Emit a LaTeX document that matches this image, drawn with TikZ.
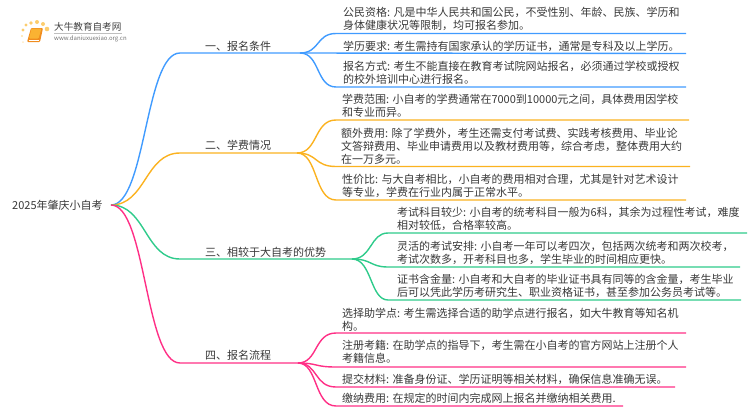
\documentclass[tikz,border=0pt]{standalone}
\usepackage{fontspec}
\setmainfont{Noto Sans CJK SC}
\tikzset{
	leaftext/.style={anchor=west, inner sep=0pt, align=left, text=black!78, font=\fontsize{11}{13}\selectfont},
	secttext/.style={anchor=west, inner sep=0pt, text=black!78, font=\fontsize{11}{13}\selectfont},
	blueline/.style={line width=1.4pt, color={rgb,255:red,64;green,155;blue,255}},
	orangeline/.style={line width=1.4pt, color={rgb,255:red,251;green,178;blue,32}},
	greenline/.style={line width=1.4pt, color={rgb,255:red,46;green,203;blue,139}},
	pinkline/.style={line width=1.4pt, color={rgb,255:red,255;green,47;blue,134}},
	logodot/.style={fill={rgb,255:red,252;green,205;blue,110}, draw=none},
}
\begin{document}
\begin{tikzpicture}[x=1pt, y=-1pt]
	\useasboundingbox (0, 0) rectangle (750, 410);

	%%%%% LOGO %%%%%
	\fill[logodot] (23, 30) circle (1.6);
	\fill[logodot] (26, 25) circle (1.6);
	\fill[logodot] (31, 23) circle (1.9);
	\fill[logodot] (37, 22) circle (2);
	\fill[logodot] (43, 24) circle (2);
	\fill[logodot] (47, 29) circle (2.3);
	\fill[logodot, opacity=0.6] (22, 36) circle (1.2);
	\fill[logodot, opacity=0.4] (23, 42) circle (1);
	\fill[rounded corners=1pt, color={rgb,255:red,240;green,140;blue,30}] (31, 28) -- (43, 28) -- (40, 42) -- (27, 42) -- cycle;
	\fill[rounded corners=1pt, color={rgb,255:red,250;green,178;blue,50}] (31.5, 28.5) -- (41.5, 28.5) -- (38.5, 38.5) -- (29, 38.5) -- cycle;
	\draw[white, line width=0.6pt] (28.5, 40) -- (39, 40);
	\node[secttext, text=black!75, font=\fontsize{9.6}{11}\selectfont] (logoname) at (54, 27) {大牛教育自考网};
	\draw[black!25, line width=0.5pt] (54, 33) -- (122, 33);
	\node[secttext, text=black!55, font=\fontsize{6}{7}\selectfont] (logourl) at (54, 38.5) {www.daniuxuexiao.org.cn};

	%%%%% ROOT %%%%%
	\node[secttext] (root) at (12, 205) {2025年肇庆小自考};
	\coordinate (rootend) at (111, 205);

	%%%%% SECTION 1 %%%%%
	\node[secttext] (sectA) at (205, 46) {一、报名条件};
	\coordinate (sectAin) at (180, 53);
	\coordinate (sectAout) at (300, 53);
	\draw[blueline] (rootend) .. controls (146, 205) and (145, 53) .. (sectAin) -- (sectAout);
	\node[leaftext] (leafAa) at (343, 19) {公民资格: 凡是中华人民共和国公民，不受性别、年龄、民族、学历和\\身体健康状况等限制，均可报名参加。};
	\node[leaftext] (leafAb) at (343, 46) {学历要求: 考生需持有国家承认的学历证书，通常是专科及以上学历。};
	\node[leaftext] (leafAc) at (343, 72.5) {报名方式: 考生不能直接在教育考试院网站报名，必须通过学校或授权\\的校外培训中心进行报名。};
	\coordinate (endAa) at (686, 33.5);
	\coordinate (endAb) at (686, 53.5);
	\coordinate (endAc) at (686, 87);
	\draw[blueline] (sectAout) .. controls (320, 53) and (316, 33.5) .. (336, 33.5) -- (endAa);
	\draw[blueline] (sectAout) -- (endAb);
	\draw[blueline] (sectAout) .. controls (320, 53) and (316, 87) .. (336, 87) -- (endAc);

	%%%%% SECTION 2 %%%%%
	\node[secttext] (sectB) at (205, 145) {二、学费情况};
	\coordinate (sectBin) at (180, 153);
	\coordinate (sectBout) at (297, 153);
	\draw[orangeline] (rootend) .. controls (146, 205) and (145, 153) .. (sectBin) -- (sectBout);
	\node[leaftext] (leafBa) at (342, 105.5) {学费范围: 小自考的学费通常在7000到10000元之间，具体费用因学校\\和专业而异。};
	\node[leaftext] (leafBb) at (341, 146) {额外费用: 除了学费外，考生还需支付考试费、实践考核费用、毕业论\\文答辩费用、毕业申请费用以及教材费用等，综合考虑，整体费用大约\\在一万多元。};
	\node[leaftext] (leafBc) at (342, 185.5) {性价比: 与大自考相比，小自考的费用相对合理，尤其是针对艺术设计\\等专业，学费在行业内属于正常水平。};
	\coordinate (endBa) at (689, 120);
	\coordinate (endBb) at (690, 166.5);
	\coordinate (endBc) at (686, 200);
	\draw[orangeline] (sectBout) .. controls (318, 153) and (314, 120) .. (336, 120) -- (endBa);
	\draw[orangeline] (sectBout) .. controls (318, 153) and (314, 166.5) .. (336, 166.5) -- (endBb);
	\draw[orangeline] (sectBout) .. controls (318, 153) and (314, 200) .. (336, 200) -- (endBc);

	%%%%% SECTION 3 %%%%%
	\node[secttext] (sectC) at (205, 252) {三、相较于大自考的优势};
	\coordinate (sectCin) at (180, 259);
	\coordinate (sectCout) at (352, 259);
	\draw[greenline] (rootend) .. controls (146, 205) and (145, 259) .. (sectCin) -- (sectCout);
	\node[leaftext] (leafCa) at (397, 219) {考试科目较少: 小自考的统考科目一般为6科，其余为过程性考试，难度\\相对较低，合格率较高。};
	\node[leaftext] (leafCb) at (397, 252.5) {灵活的考试安排: 小自考一年可以考四次，包括两次统考和两次校考，\\考试次数多，开考科目也多，学生毕业的时间相应更快。};
	\node[leaftext] (leafCc) at (397, 285.5) {证书含金量: 小自考和大自考的毕业证书具有同等的含金量，考生毕业\\后可以凭此学历考研究生、职业资格证书，甚至参加公务员考试等。};
	\coordinate (endCa) at (747, 233);
	\coordinate (endCb) at (740, 267);
	\coordinate (endCc) at (741, 300);
	\draw[greenline] (sectCout) .. controls (372, 259) and (370, 233) .. (388, 233) -- (endCa);
	\draw[greenline] (sectCout) .. controls (372, 259) and (370, 267) .. (388, 267) -- (endCb);
	\draw[greenline] (sectCout) .. controls (372, 259) and (370, 300) .. (388, 300) -- (endCc);

	%%%%% SECTION 4 %%%%%
	\node[secttext] (sectD) at (205, 355) {四、报名流程};
	\coordinate (sectDin) at (180, 363);
	\coordinate (sectDout) at (298, 363);
	\draw[pinkline] (rootend) .. controls (146, 205) and (145, 363) .. (sectDin) -- (sectDout);
	\node[leaftext] (leafDa) at (342, 319.5) {选择助学点: 考生需选择合适的助学点进行报名，如大牛教育等知名机\\构。};
	\node[leaftext] (leafDb) at (342, 352) {注册考籍: 在助学点的指导下，考生需在小自考的官方网站上注册个人\\考籍信息。};
	\node[leaftext] (leafDc) at (342, 379) {提交材料: 准备身份证、学历证明等相关材料，确保信息准确无误。};
	\node[leaftext] (leafDd) at (342, 398) {缴纳费用: 在规定的时间内完成网上报名并缴纳相关费用.};
	\coordinate (endDa) at (686, 333);
	\coordinate (endDb) at (686, 367);
	\coordinate (endDc) at (675, 387);
	\coordinate (endDd) at (623, 406);
	\draw[pinkline] (sectDout) .. controls (318, 363) and (314, 333) .. (336, 333) -- (endDa);
	\draw[pinkline] (sectDout) .. controls (318, 363) and (314, 367) .. (336, 367) -- (endDb);
	\draw[pinkline] (sectDout) .. controls (318, 363) and (314, 387) .. (336, 387) -- (endDc);
	\draw[pinkline] (sectDout) .. controls (318, 363) and (314, 406) .. (336, 406) -- (endDd);
\end{tikzpicture}
\end{document}
